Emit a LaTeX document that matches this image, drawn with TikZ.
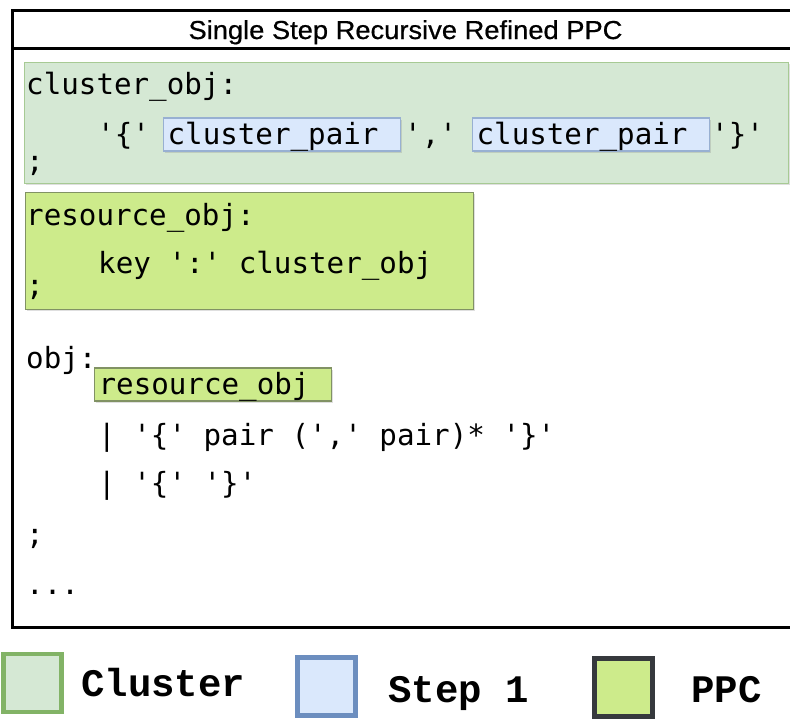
\documentclass[tikz,border=0pt]{standalone}
\usepackage{fontspec}
\setmonofont{DejaVu Sans Mono}
\newfontfamily\titlefont[FakeStretch=1.05,FakeBold=0.6]{Liberation Sans}
\newfontfamily\legendfont{Liberation Mono}
\usetikzlibrary{shadows}
\definecolor{clusterfill}{HTML}{D5E8D4}
\definecolor{clusterline}{HTML}{82B366}
\definecolor{stepfill}{HTML}{DAE8FC}
\definecolor{stepline}{HTML}{6C8EBF}
\definecolor{ppcfill}{HTML}{CDEB8B}
\definecolor{ppcline}{HTML}{36393D}
\newcommand{\codesize}{\ttfamily\fontsize{29.2}{35}\selectfont}
\newcommand{\legendsize}{\legendfont\bfseries\fontsize{39}{40}\selectfont}
\newcommand{\tagpad}{\hphantom{x}}
\tikzset{
  code/.style={font=\codesize, anchor=base west, inner sep=0pt},
  softshadow/.style={drop shadow={shadow xshift=1.5pt, shadow yshift=-1.5pt, opacity=0.25}},
  region/.style={anchor=north west, inner sep=0pt, softshadow},
  clusterbox/.style={region, fill=clusterfill, draw=clusterline!70!white, line width=1.2pt},
  ppcbox/.style={region, fill=ppcfill, draw=ppcline!50!ppcfill, line width=1.2pt},
  tagbox/.style={code, softshadow, inner xsep=4pt, inner ysep=4pt, text height=22pt, text depth=3pt, line width=1.2pt},
  stepbox/.style={tagbox, fill=stepfill, draw=stepline!70!white},
  ppctag/.style={tagbox, fill=ppcfill, draw=ppcline!50!ppcfill},
  legendbox/.style={inner sep=0pt, minimum size=58pt, line width=4.5pt},
  legendtext/.style={font=\legendsize, anchor=base west, inner sep=0pt}
}
\begin{document}
\begin{tikzpicture}[x=1pt,y=-1pt]
  \useasboundingbox (0,0) rectangle (790,721);
  % frame and title
  \draw[line width=3pt] (12,10) rectangle (793,627);
  \draw[line width=3pt] (12,48) -- (793,48);
  \node[font=\titlefont\fontsize{26}{30}\selectfont, anchor=base, inner sep=0pt] (title) at (405.5,39) {Single Step Recursive Refined PPC};

  % cluster_obj rule
  \node[clusterbox, minimum width=764pt, minimum height=121pt] (cluster) at (24,62) {};
  \node[code] (clusterhead) at (26,94) {cluster\_obj:};
  \node[code] (open) at (97,144) {'\{'};
  \node[stepbox] (pairone) at (163,144) {cluster\_pair\tagpad};
  \node[code] (comma) at (404,144) {','};
  \node[stepbox] (pairtwo) at (472,144) {cluster\_pair\tagpad};
  \node[code] (close) at (711,144) {'\}'};
  \node[code] (clusterend) at (26,171) {;};

  % resource_obj rule
  \node[ppcbox, minimum width=448pt, minimum height=117pt] (resource) at (25,192) {};
  \node[code] (resourcehead) at (26,225) {resource\_obj:};
  \node[code] (resourcebody) at (98,273) {key ':' cluster\_obj};
  \node[code] (resourceend) at (26,295) {;};

  % obj rule
  \node[code] (objhead) at (26,368) {obj:};
  \node[ppctag] (objres) at (94,394) {resource\_obj\tagpad};
  \node[code] (objalt1) at (98,445) {| '\{' pair (',' pair)* '\}'};
  \node[code] (objalt2) at (98,493) {| '\{' '\}'};
  \node[code] (objend) at (26,544) {;};
  \node[code] (dots) at (26,594) {...};

  % legend
  \node[legendbox, fill=clusterfill, draw=clusterline] (keycluster) at (32.5,683) {};
  \node[legendtext] (labcluster) at (81,696) {Cluster};
  \node[legendbox, fill=stepfill, draw=stepline] (keystep) at (326.5,686.5) {};
  \node[legendtext] (labstep) at (388,702) {Step 1};
  \node[legendbox, fill=ppcfill, draw=ppcline, line width=5pt] (keyppc) at (623.5,687.5) {};
  \node[legendtext] (labppc) at (691,702) {PPC};
\end{tikzpicture}
\end{document}
